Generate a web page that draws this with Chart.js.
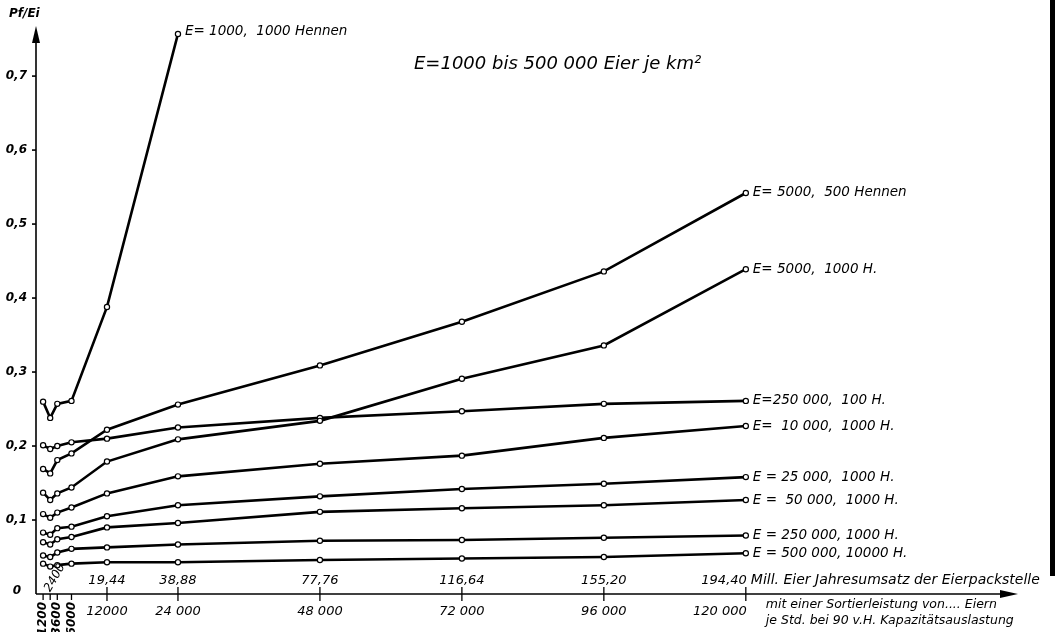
<!DOCTYPE html>
<html>
<head>
<meta charset="utf-8">
<script src="https://cdn.jsdelivr.net/npm/chart.js@4.4.0/dist/chart.umd.min.js"></script>
<style>
  body { margin: 0; background: #fff; }
  #wrap { width: 1063px; height: 632px; }
</style>
</head>
<body>
<div id="wrap"><canvas id="eier" width="1063" height="632"></canvas></div>
<script>
// Sortierleistung (Eier je Std.) und Jahresumsatz (Mill. Eier)
const sortierleistung = [1200, 2400, 3600, 6000, 12000, 24000, 48000, 72000, 96000, 120000];
const untereLabels = ['1200', '2400', '3600', '6000', '12000', '24 000', '48 000', '72 000', '96 000', '120 000'];
const obereLabels = ['', '', '', '', '19,44', '38,88', '77,76', '116,64', '155,20', '194,40'];
const yTicks = [0, 0.1, 0.2, 0.3, 0.4, 0.5, 0.6, 0.7];
const yTickLabels = ['0', '0,1', '0,2', '0,3', '0,4', '0,5', '0,6', '0,7'];

// Pf/Ei je Kurve
const e1000_1000 = [0.260, 0.238, 0.257, 0.261, 0.388, 0.757];
const e5000_500 = [0.169, 0.163, 0.181, 0.190, 0.222, 0.256, 0.309, 0.368, 0.436, 0.542];
const e5000_1000 = [0.137, 0.127, 0.136, 0.144, 0.179, 0.209, 0.234, 0.291, 0.336, 0.439];
const e250000_100 = [0.201, 0.196, 0.200, 0.205, 0.210, 0.225, 0.238, 0.247, 0.257, 0.261];
const e10000_1000 = [0.108, 0.103, 0.110, 0.117, 0.136, 0.159, 0.176, 0.187, 0.211, 0.227];
const e25000_1000 = [0.083, 0.080, 0.089, 0.091, 0.105, 0.120, 0.132, 0.142, 0.149, 0.158];
const e50000_1000 = [0.070, 0.067, 0.074, 0.077, 0.090, 0.096, 0.111, 0.116, 0.120, 0.127];
const e250000_1000 = [0.052, 0.050, 0.056, 0.061, 0.063, 0.067, 0.072, 0.073, 0.076, 0.079];
const e500000_10000 = [0.041, 0.037, 0.039, 0.041, 0.043, 0.043, 0.046, 0.048, 0.050, 0.055];

const kurven = [
  { label: 'E= 1000,  1000 Hennen', werte: e1000_1000, dy: -2 },
  { label: 'E= 5000,  500 Hennen', werte: e5000_500, dy: 0 },
  { label: 'E= 5000,  1000 H.', werte: e5000_1000, dy: 0 },
  { label: 'E=250 000,  100 H.', werte: e250000_100, dy: 0 },
  { label: 'E=  10 000,  1000 H.', werte: e10000_1000, dy: 0 },
  { label: 'E = 25 000,  1000 H.', werte: e25000_1000, dy: 0 },
  { label: 'E =  50 000,  1000 H.', werte: e50000_1000, dy: 0 },
  { label: 'E = 250 000, 1000 H.', werte: e250000_1000, dy: 0 },
  { label: 'E = 500 000, 10000 H.', werte: e500000_10000, dy: 0 }
];

const fontLabel = 'italic 13.5px "DejaVu Sans"';
const fontTick = 'italic bold 12px "DejaVu Sans"';

// Achsen, Beschriftungen und Kurvennamen selbst zeichnen
const achsenPlugin = {
  id: 'achsen',
  afterDatasetsDraw(chart) {
    const ctx = chart.ctx;
    const xs = chart.scales.x;
    const ys = chart.scales.y;
    const x0 = xs.getPixelForValue(0);
    const y0 = ys.getPixelForValue(0);
    const top = chart.chartArea.top;
    ctx.save();
    ctx.strokeStyle = '#000';
    ctx.fillStyle = '#000';
    ctx.lineWidth = 1.6;

    // y-Achse mit Pfeil
    ctx.beginPath();
    ctx.moveTo(x0, y0);
    ctx.lineTo(x0, top + 12);
    ctx.stroke();
    ctx.beginPath();
    ctx.moveTo(x0, top - 2);
    ctx.lineTo(x0 - 4, top + 15);
    ctx.lineTo(x0 + 4, top + 15);
    ctx.closePath();
    ctx.fill();

    // x-Achse mit Pfeil
    const xEnd = chart.chartArea.right;
    ctx.beginPath();
    ctx.moveTo(x0, y0);
    ctx.lineTo(xEnd - 10, y0);
    ctx.stroke();
    ctx.beginPath();
    ctx.moveTo(xEnd + 6, y0);
    ctx.lineTo(xEnd - 12, y0 - 4);
    ctx.lineTo(xEnd - 12, y0 + 4);
    ctx.closePath();
    ctx.fill();

    // y-Ticks
    ctx.font = fontTick;
    ctx.textAlign = 'right';
    ctx.textBaseline = 'middle';
    yTicks.forEach((v, i) => {
      const py = ys.getPixelForValue(v);
      if (v > 0) {
        ctx.beginPath();
        ctx.moveTo(x0 - 4, py);
        ctx.lineTo(x0, py);
        ctx.stroke();
        ctx.fillText(yTickLabels[i], x0 - 9, py);
      } else {
        ctx.fillText(yTickLabels[i], x0 - 15, py - 3);
      }
    });
    ctx.font = 'italic bold 12px "DejaVu Sans"';
    ctx.textAlign = 'left';
    ctx.fillText('Pf/Ei', 9, 14);

    // x-Ticks
    ctx.lineWidth = 1.3;
    const letzter = sortierleistung.length - 1;
    sortierleistung.forEach((v, i) => {
      const px = xs.getPixelForValue(v);
      ctx.beginPath();
      if (i < 4) {
        ctx.moveTo(px, y0);
        ctx.lineTo(px, y0 + 6);
      } else {
        ctx.moveTo(px, y0 - 7);
        ctx.lineTo(px, y0 + 7);
      }
      ctx.stroke();
      ctx.font = 'italic 13px "DejaVu Sans"';
      if (i >= 4) {
        ctx.textAlign = i === letzter ? 'right' : 'center';
        ctx.textBaseline = 'alphabetic';
        const dx = i === letzter ? 1 : 0;
        ctx.fillText(obereLabels[i], px + dx, y0 - 10);
        ctx.fillText(untereLabels[i], px + dx, y0 + 21);
      } else if (i === 1) {
        // 2400 schraeg ueber der Achse
        ctx.save();
        ctx.translate(px - 3, y0 - 3);
        ctx.rotate(-Math.PI / 3);
        ctx.font = 'italic 12px "DejaVu Sans"';
        ctx.textAlign = 'left';
        ctx.textBaseline = 'middle';
        ctx.fillText(untereLabels[i], 0, 0);
        ctx.restore();
      } else {
        ctx.save();
        ctx.translate(px, y0 + 8);
        ctx.rotate(-Math.PI / 2);
        ctx.font = 'italic bold 12px "DejaVu Sans"';
        ctx.textAlign = 'right';
        ctx.textBaseline = 'middle';
        ctx.fillText(untereLabels[i], 0, 0);
        ctx.restore();
      }
    });

    // Achsentexte rechts
    const pxLast = xs.getPixelForValue(120000);
    ctx.font = 'italic 14px "DejaVu Sans"';
    ctx.textAlign = 'left';
    ctx.textBaseline = 'alphabetic';
    ctx.fillText('Mill. Eier Jahresumsatz der Eierpackstelle', pxLast + 5, y0 - 10);
    ctx.font = 'italic 12.5px "DejaVu Sans"';
    ctx.fillText('mit einer Sortierleistung von.... Eiern', pxLast + 20, y0 + 14);
    ctx.fillText('je Std. bei 90 v.H. Kapazitätsauslastung', pxLast + 20, y0 + 30);

    // Titel
    ctx.font = 'italic 18px "DejaVu Sans"';
    ctx.fillText('E=1000 bis 500 000 Eier je km²', 414, 69);

    // Kurvennamen am letzten Punkt
    ctx.font = fontLabel;
    ctx.textBaseline = 'middle';
    chart.data.datasets.forEach((ds, i) => {
      const meta = chart.getDatasetMeta(i);
      const last = meta.data[meta.data.length - 1];
      ctx.fillText(kurven[i].label, last.x + 7, last.y + kurven[i].dy);
    });

    // Rand des Scans
    ctx.fillRect(1050, 0, 5, 576);
    ctx.restore();
  }
};

const datasets = kurven.map(k => ({
  label: k.label,
  data: k.werte.map((w, i) => ({ x: sortierleistung[i], y: w })),
  borderColor: '#000',
  borderWidth: 2.6,
  tension: 0,
  fill: false,
  pointRadius: 2.6,
  pointBorderWidth: 1.2,
  pointBorderColor: '#000',
  pointBackgroundColor: '#fff'
}));

new Chart(document.getElementById('eier'), {
  type: 'line',
  data: { datasets },
  options: {
    responsive: false,
    animation: false,
    layout: { padding: { left: 36, right: 51, top: 28, bottom: 38 } },
    scales: {
      x: { type: 'linear', min: 0, max: 165000, display: false },
      y: { min: 0, max: 0.765, display: false }
    },
    plugins: {
      legend: { display: false },
      tooltip: { enabled: false }
    }
  },
  plugins: [achsenPlugin]
});
</script>
</body>
</html>
